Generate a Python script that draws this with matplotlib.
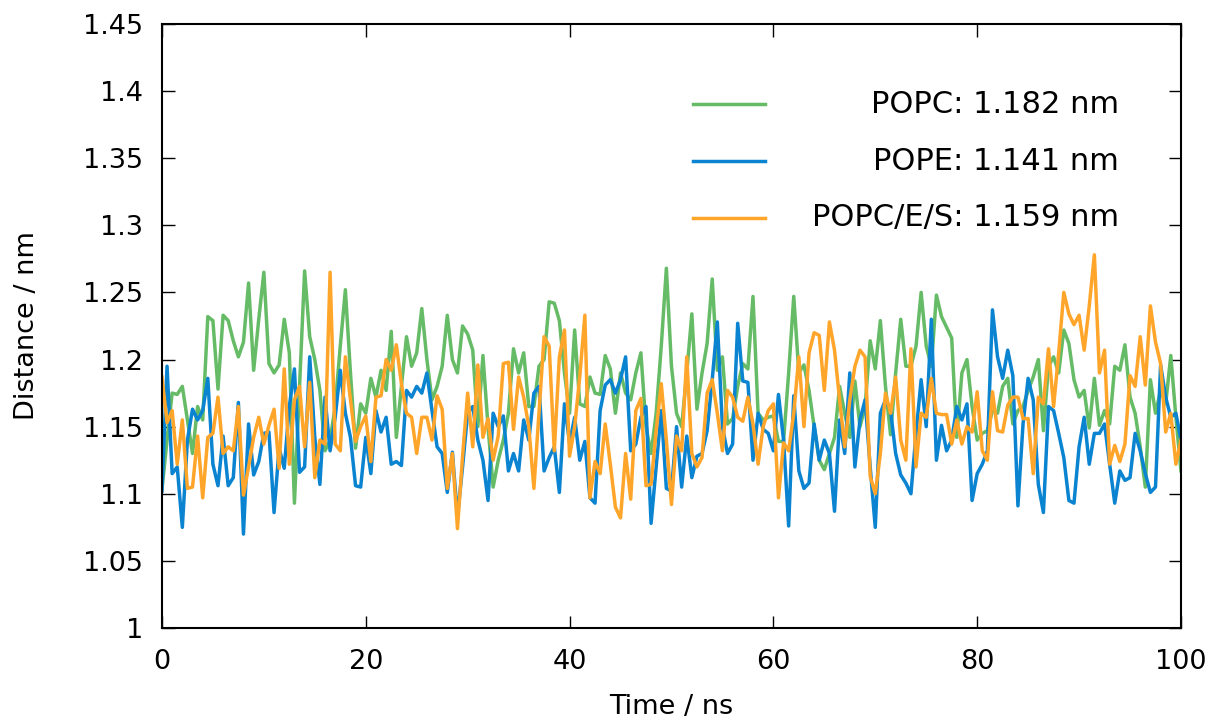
#!/usr/bin/env python3
"""Distance time series for three membrane systems (gnuplot-like look)."""

import numpy as np
import matplotlib
matplotlib.use("Agg")
import matplotlib.pyplot as plt

# time axis, 0.5 ns sampling
time_ns = np.arange(0, 100.5, 0.5)

popc = [
    1.103, 1.14, 1.175, 1.174, 1.180, 1.155, 1.130, 1.165, 1.155, 1.232,
    1.229, 1.178, 1.233, 1.229, 1.214, 1.202, 1.213, 1.257, 1.192, 1.23,
    1.265, 1.197, 1.19, 1.196, 1.23,
    1.205, 1.093, 1.18, 1.266, 1.217, 1.20, 1.177, 1.132, 1.14, 1.165,
    1.21, 1.252, 1.19, 1.134, 1.167, 1.16, 1.186, 1.172, 1.192, 1.177,
    1.221, 1.142, 1.18, 1.217, 1.195, 1.205,
    1.238, 1.20, 1.17, 1.18, 1.195, 1.233, 1.20, 1.19, 1.225, 1.219,
    1.207, 1.15, 1.203, 1.15, 1.105, 1.125, 1.14, 1.16, 1.208, 1.19,
    1.205, 1.165, 1.165, 1.195, 1.20, 1.243,
    1.242, 1.229, 1.19, 1.16, 1.222, 1.167, 1.165, 1.187, 1.175, 1.174,
    1.203, 1.193, 1.16, 1.19, 1.175, 1.17, 1.19, 1.205, 1.15, 1.13,
    1.16, 1.21, 1.268, 1.195, 1.16,
    1.15, 1.19, 1.234, 1.163, 1.19, 1.212, 1.26, 1.192, 1.202, 1.152,
    1.156, 1.18, 1.197, 1.193, 1.247, 1.16, 1.155, 1.157, 1.158, 1.139,
    1.139, 1.19, 1.247, 1.19, 1.196, 1.177,
    1.15, 1.125, 1.118, 1.13, 1.142, 1.18, 1.16, 1.142, 1.184, 1.15,
    1.165, 1.214, 1.193, 1.229, 1.18, 1.144, 1.19, 1.23, 1.195, 1.195,
    1.21, 1.25, 1.21, 1.195, 1.248,
    1.232, 1.224, 1.216, 1.142, 1.19, 1.2, 1.165, 1.14, 1.145, 1.147,
    1.162, 1.16, 1.18, 1.186, 1.152, 1.162, 1.165, 1.177, 1.187, 1.2,
    1.147, 1.195, 1.202, 1.19, 1.222, 1.212,
    1.185, 1.172, 1.177, 1.149, 1.186, 1.151, 1.162, 1.152, 1.195, 1.192,
    1.211, 1.172, 1.16, 1.135, 1.105, 1.185, 1.16, 1.177, 1.167, 1.203,
    1.157, 1.117,
]

pope = [
    1.102, 1.195, 1.115, 1.12, 1.075, 1.14, 1.163, 1.155, 1.162, 1.186,
    1.122, 1.106, 1.143, 1.106, 1.112, 1.168, 1.070, 1.152, 1.114, 1.124,
    1.145, 1.146, 1.086, 1.134, 1.119,
    1.165, 1.193, 1.116, 1.12, 1.202, 1.142, 1.107, 1.172, 1.132, 1.157,
    1.192, 1.16, 1.142, 1.106, 1.105, 1.142, 1.115, 1.162, 1.146, 1.157,
    1.122, 1.124, 1.121, 1.177, 1.172, 1.18,
    1.175, 1.19, 1.162, 1.135, 1.13, 1.101, 1.131, 1.083, 1.12, 1.16,
    1.165, 1.14, 1.125, 1.095, 1.16, 1.15, 1.158, 1.117, 1.13, 1.117,
    1.155, 1.14, 1.175, 1.18, 1.117, 1.127,
    1.135, 1.101, 1.167, 1.138, 1.157, 1.125, 1.139, 1.097, 1.093, 1.162,
    1.181, 1.185, 1.175, 1.185, 1.202, 1.132, 1.137, 1.157, 1.165, 1.078,
    1.12, 1.162, 1.104, 1.102, 1.15,
    1.105, 1.143, 1.112, 1.128, 1.13, 1.147, 1.185, 1.228, 1.15, 1.13,
    1.137, 1.227, 1.184, 1.183, 1.125, 1.16, 1.148, 1.145, 1.132, 1.174,
    1.14, 1.076, 1.173, 1.117, 1.104, 1.108,
    1.152, 1.125, 1.14, 1.13, 1.087, 1.155, 1.13, 1.19, 1.12, 1.155,
    1.17, 1.12, 1.075, 1.16, 1.17, 1.162, 1.13, 1.114, 1.108, 1.1,
    1.145, 1.185, 1.15, 1.23, 1.125,
    1.151, 1.132, 1.14, 1.165, 1.155, 1.167, 1.095, 1.115, 1.122, 1.132,
    1.237, 1.202, 1.186, 1.207, 1.188, 1.091, 1.152, 1.186, 1.17, 1.107,
    1.086, 1.165, 1.162, 1.145, 1.127, 1.095,
    1.093, 1.135, 1.157, 1.122, 1.145, 1.145, 1.152, 1.122, 1.093, 1.117,
    1.11, 1.112, 1.145, 1.132, 1.115, 1.101, 1.105, 1.196, 1.172, 1.157,
    1.16, 1.14,
]

popc_es = [
    1.187, 1.153, 1.162, 1.122, 1.155, 1.104, 1.105, 1.143, 1.097, 1.142,
    1.145, 1.172, 1.130, 1.135, 1.132, 1.165, 1.099, 1.120, 1.142, 1.157,
    1.137, 1.151, 1.163, 1.119, 1.193,
    1.122, 1.17, 1.18, 1.135, 1.183, 1.112, 1.14, 1.137, 1.265, 1.137,
    1.132, 1.202, 1.17, 1.139, 1.15, 1.158, 1.124, 1.172, 1.173, 1.2,
    1.192, 1.211, 1.182, 1.16, 1.157, 1.13,
    1.157, 1.157, 1.14, 1.173, 1.163, 1.104, 1.13, 1.074, 1.128, 1.175,
    1.135, 1.196, 1.142, 1.156, 1.125, 1.143, 1.197, 1.198, 1.148, 1.187,
    1.172, 1.15, 1.104, 1.16, 1.217, 1.21,
    1.132, 1.202, 1.222, 1.128, 1.15, 1.187, 1.233, 1.097, 1.124, 1.115,
    1.152, 1.122, 1.09, 1.082, 1.13, 1.096, 1.162, 1.171, 1.106, 1.107,
    1.147, 1.182, 1.14, 1.092, 1.143,
    1.132, 1.202, 1.13, 1.12, 1.127, 1.175, 1.185, 1.16, 1.132, 1.177,
    1.172, 1.157, 1.154, 1.172, 1.152, 1.122, 1.15, 1.162, 1.167, 1.097,
    1.138, 1.132, 1.16, 1.202, 1.15, 1.205,
    1.22, 1.218, 1.177, 1.228, 1.207, 1.17, 1.135, 1.17, 1.195, 1.207,
    1.202, 1.113, 1.1, 1.13, 1.175, 1.16, 1.187, 1.14, 1.125, 1.208,
    1.12, 1.16, 1.157, 1.186, 1.16,
    1.159, 1.159, 1.137, 1.155, 1.137, 1.15, 1.146, 1.176, 1.132, 1.125,
    1.176, 1.147, 1.146, 1.166, 1.172, 1.172, 1.156, 1.156, 1.115, 1.172,
    1.167, 1.208, 1.165, 1.205, 1.25, 1.234,
    1.226, 1.233, 1.207, 1.24, 1.278, 1.19, 1.207, 1.122, 1.136, 1.124,
    1.137, 1.188, 1.18, 1.217, 1.181, 1.24, 1.213, 1.197, 1.146, 1.16,
    1.122, 1.14,
]

labels = ["POPC: 1.182 nm", "POPE: 1.141 nm", "POPC/E/S: 1.159 nm"]
colors = ["#66bb66", "#0a84d0", "#ffa52a"]
series = [popc, pope, popc_es]

xticks = [0, 20, 40, 60, 80, 100]
yticks = [1.0, 1.05, 1.1, 1.15, 1.2, 1.25, 1.3, 1.35, 1.4, 1.45]
ytick_labels = ["1", "1.05", "1.1", "1.15", "1.2", "1.25", "1.3", "1.35", "1.4", "1.45"]

plt.rcParams["font.family"] = ["DejaVu Sans"]

fig = plt.figure(figsize=(12.14, 7.22), dpi=100)
ax = fig.add_axes([0.1334, 0.1302, 0.8394, 0.8366])

for vals, col in zip(series, colors):
    ax.plot(time_ns, vals, color=col, lw=2.5)

ax.set_xlim(0, 100)
ax.set_ylim(1.0, 1.45)
ax.set_xticks(xticks)
ax.set_yticks(yticks)
ax.set_yticklabels(ytick_labels)
ax.tick_params(direction="in", length=9, width=1.0, labelsize=19.5,
               top=True, right=True, pad=13.5)
ax.tick_params(axis="x", pad=15)
for sp in ax.spines.values():
    sp.set_linewidth(1.5)

ax.set_xlabel("Time / ns", fontsize=19.5, labelpad=14)
ax.set_ylabel("Distance / nm", fontsize=19.5, labelpad=31)

# gnuplot-style key: sample line on the left, right-justified text
row_y = [0.8675, 0.773, 0.679]
for y, col, lab in zip(row_y, colors, labels):
    ax.plot([0.521, 0.592], [y, y], color=col, lw=2.5, transform=ax.transAxes)
    ax.text(0.939, y, lab, transform=ax.transAxes, ha="right", va="center",
            fontsize=22)

fig.savefig("out.png", dpi=100)
